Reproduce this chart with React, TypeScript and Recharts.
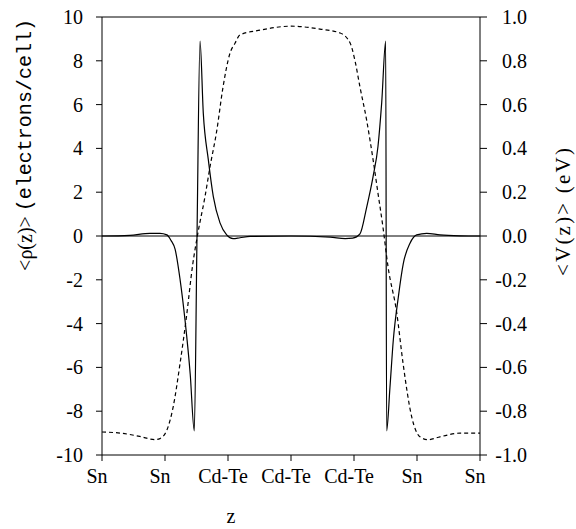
import { LineChart, Line, XAxis, YAxis, ReferenceLine } from 'recharts'

// layer positions along z (0..6 = tick positions)
const zTicks = [0, 1, 2, 3, 4, 5, 6]
const zTickLabels = ['Sn', 'Sn', 'Cd-Te', 'Cd-Te', 'Cd-Te', 'Sn', 'Sn']
const rhoTicks = [-10, -8, -6, -4, -2, 0, 2, 4, 6, 8, 10]
const vTicks = [-1, -0.8, -0.6, -0.4, -0.2, 0, 0.2, 0.4, 0.6, 0.8, 1]

// planar averaged charge density <rho(z)> (solid)
const rhoZ = [0, 0.44, 0.76, 0.92, 1.03, 1.095, 1.16, 1.24, 1.32, 1.4, 1.465, 1.508, 1.556, 1.608, 1.687, 1.767, 1.873, 1.979, 2.08, 2.19, 2.35, 3.0, 3.62, 3.86, 3.98, 4.095, 4.2, 4.302, 4.381, 4.44, 4.503, 4.518, 4.571, 4.624, 4.703, 4.783, 4.889, 4.995, 5.154, 5.365, 5.683, 6]
const rhoVal = [0, 0.03, 0.12, 0.12, 0.05, -0.2, -0.6, -2.0, -3.9, -6.3, -8.9, 0, 8.9, 5.6, 3.5, 1.8, 0.6, 0.05, -0.12, -0.08, -0.02, 0, -0.05, -0.12, -0.1, 0.1, 1.3, 2.7, 4.1, 6.1, 8.9, -8.9, -6.9, -4.75, -2.8, -1.25, -0.33, 0.05, 0.12, 0.05, 0.01, 0]

// planar averaged potential <V(z)> (dashed)
const vZ = [0, 0.29, 0.6, 0.84, 0.92, 1.03, 1.13, 1.24, 1.34, 1.44, 1.52, 1.635, 1.714, 1.821, 1.921, 2.032, 2.111, 2.19, 2.51, 3.0, 3.46, 3.78, 3.94, 4.016, 4.095, 4.2, 4.302, 4.381, 4.46, 4.54, 4.678, 4.778, 4.916, 5.048, 5.175, 5.365, 5.683, 6]
const vVal = [-0.895, -0.9, -0.915, -0.93, -0.925, -0.886, -0.78, -0.58, -0.37, -0.13, 0.01, 0.18, 0.315, 0.48, 0.68, 0.835, 0.88, 0.918, 0.94, 0.958, 0.945, 0.927, 0.88, 0.8, 0.68, 0.53, 0.35, 0.195, 0.04, -0.14, -0.35, -0.58, -0.826, -0.917, -0.93, -0.917, -0.9, -0.9]

const rhoData = rhoZ.map((z, i) => ({ z, rho: rhoVal[i] }))
const vData = vZ.map((z, i) => ({ z, v: vVal[i] }))

const serifFamily =
  "'Liberation Serif', 'Times New Roman', Times, Tinos, 'Nimbus Roman', FreeSerif, 'DejaVu Serif', serif"
const monoFamily =
  "'Liberation Mono', 'Courier New', Courier, Cousine, 'Nimbus Mono PS', FreeMono, 'DejaVu Sans Mono', monospace"

const BottomTick = (props: any) => (
  <text x={props.x} y={props.y} dx={-5} dy="0.71em" textAnchor="middle" fontFamily={serifFamily} fontSize={20} fill="#000">
    {zTickLabels[props.payload.value]}
  </text>
)

const LeftTick = (props: any) => (
  <text x={props.x} y={props.y} dy="0.35em" textAnchor="end" fontFamily={serifFamily} fontSize={20} fill="#000">
    {props.payload.value}
  </text>
)

const RightTick = (props: any) => (
  <text x={props.x + 38} y={props.y} dy="0.35em" textAnchor="end" fontFamily={serifFamily} fontSize={20} fill="#000">
    {Number(props.payload.value).toFixed(1)}
  </text>
)

export default function App() {
  return (
    <div style={{ position: 'absolute', left: 0, top: 0, background: '#fff', fontFamily: serifFamily }}>
      <LineChart width={576} height={529} margin={{ top: 17, right: 0, bottom: 0, left: 0 }}>
        <XAxis
          dataKey="z"
          type="number"
          domain={[0, 6]}
          ticks={zTicks}
          height={74}
          tickSize={6}
          tickMargin={8}
          tick={BottomTick}
          stroke="#000"
          allowDataOverflow
          label={{
            content: () => (
              <text x={231} y={523} textAnchor="middle" fontFamily={serifFamily} fontSize={20} fill="#000">
                z
              </text>
            ),
          }}
        />
        <YAxis
          yAxisId="left"
          domain={[-10, 10]}
          ticks={rhoTicks}
          width={102}
          tickSize={6}
          tickMargin={13}
          tick={LeftTick}
          stroke="#000"
          allowDataOverflow
          label={{
            content: () => (
              <text
                x={25}
                y={145}
                transform="rotate(-90 25 145)"
                textAnchor="middle"
                dominantBaseline="central"
                fontSize={20}
                fill="#000"
              >
                <tspan fontFamily={serifFamily}>{'<ρ(z)> '}</tspan>
                <tspan fontFamily={monoFamily}>(electrons/cell)</tspan>
              </text>
            ),
          }}
        />
        <YAxis
          yAxisId="right"
          orientation="right"
          domain={[-1, 1]}
          ticks={vTicks}
          width={96}
          tickSize={7}
          tickMargin={2}
          tick={RightTick}
          stroke="#000"
          allowDataOverflow
          label={{
            content: () => (
              <text
                x={563}
                y={212}
                transform="rotate(-90 563 212)"
                textAnchor="middle"
                dominantBaseline="central"
                fontFamily={serifFamily}
                fontSize={21}
                textLength={128}
                lengthAdjust="spacing"
                fill="#000"
              >
                {'<V(z)> (eV)'}
              </text>
            ),
          }}
        />
        <ReferenceLine yAxisId="left" y={10} stroke="#000" />
        <ReferenceLine yAxisId="left" y={0} stroke="#000" strokeWidth={1} />
        <Line
          yAxisId="left"
          data={rhoData}
          dataKey="rho"
          type="monotone"
          stroke="#000"
          strokeWidth={1.2}
          dot={false}
          isAnimationActive={false}
        />
        <Line
          yAxisId="right"
          data={vData}
          dataKey="v"
          type="monotone"
          stroke="#000"
          strokeWidth={1.2}
          strokeDasharray="4 3"
          dot={false}
          isAnimationActive={false}
        />
      </LineChart>
    </div>
  )
}
